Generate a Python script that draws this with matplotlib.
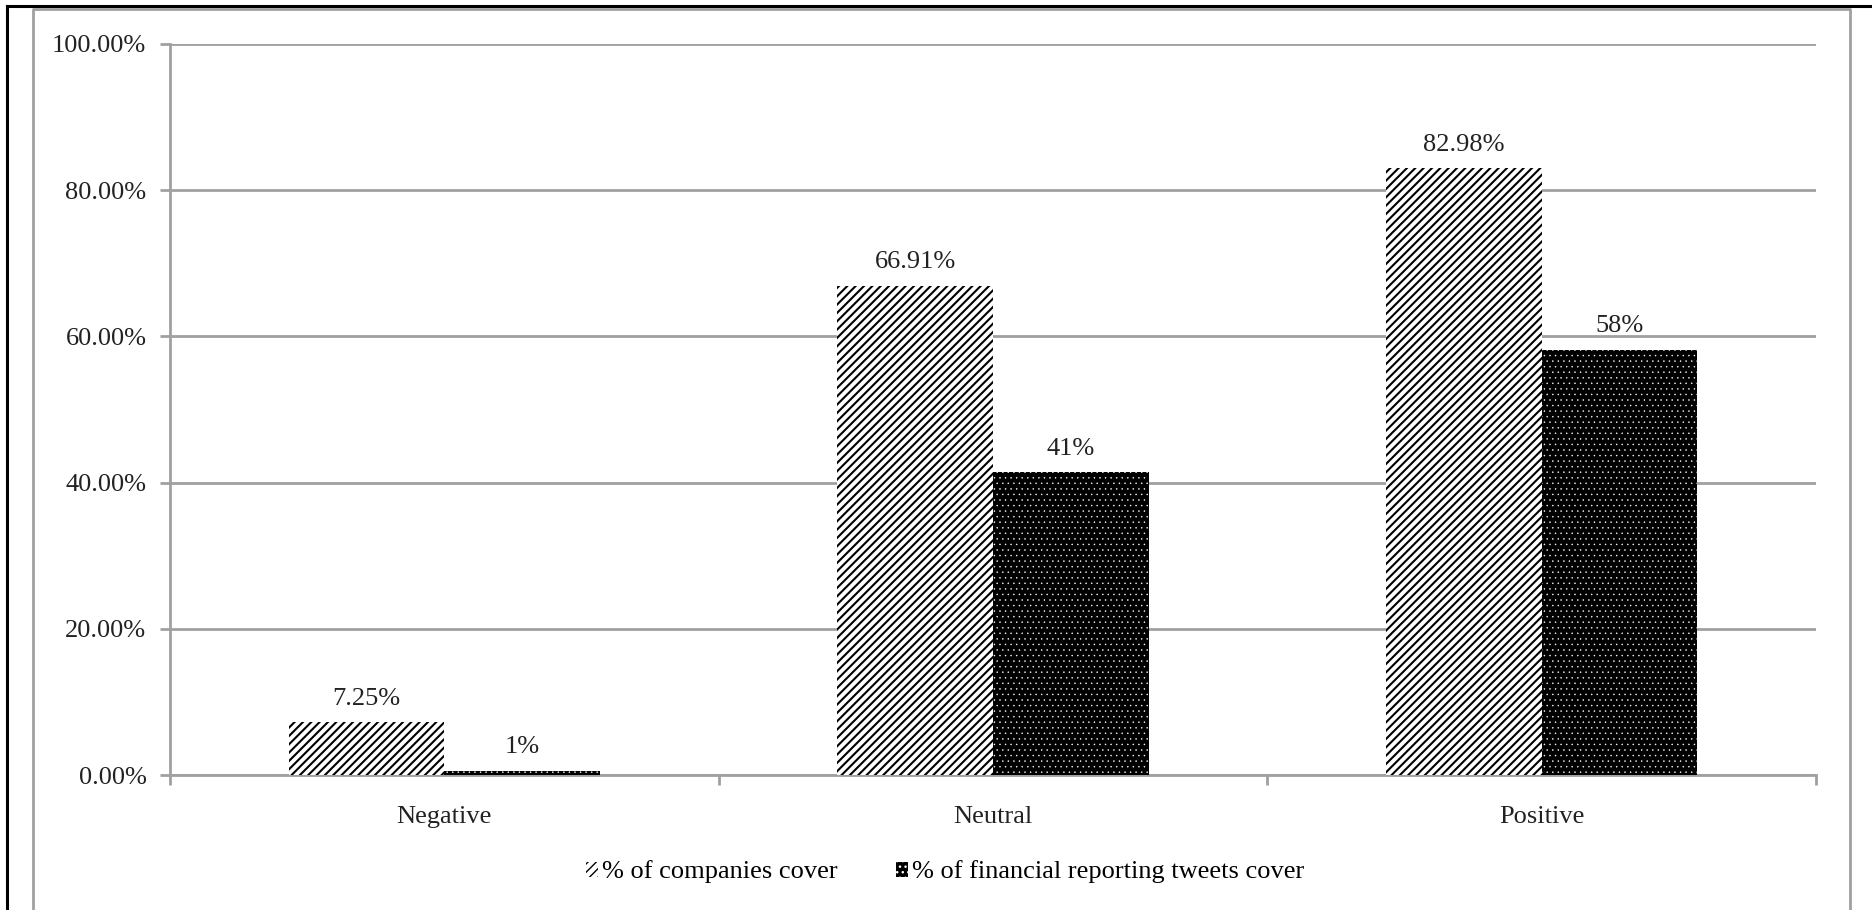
import matplotlib.pyplot as plt
from matplotlib.lines import Line2D
from matplotlib.patches import Patch
import numpy as np

plt.rcParams['font.family'] = ['Liberation Serif', 'DejaVu Serif']

# Data
categories = ['Negative', 'Neutral', 'Positive']
companies_pct = [7.25, 66.91, 82.98]
tweets_pct = [0.6, 41.4, 58.2]
series_names = ['% of companies cover', '% of financial reporting tweets cover']

grid_gray = '#a0a0a0'

fig = plt.figure(figsize=(18.72, 9.10), dpi=100)
ax = fig.add_axes([170 / 1872, 1 - 775 / 910, (1816 - 170) / 1872, (775 - 44) / 910])

x = np.arange(len(categories))
w = 0.284

with plt.rc_context({'hatch.linewidth': 1.5}):
    b1 = ax.bar(x - w / 2, companies_pct, w, facecolor='white', edgecolor='black',
                hatch='////', linewidth=0, zorder=3)
    h1 = Patch(facecolor='white', edgecolor='black', hatch='////', linewidth=0)
with plt.rc_context({'hatch.linewidth': 0.3}):
    b2 = ax.bar(x + w / 2, tweets_pct, w, facecolor='black', edgecolor='white',
                hatch='...', linewidth=0, zorder=3)
    h2 = Patch(facecolor='black', edgecolor='white', hatch='...', linewidth=0)

# value labels
for rect, v in zip(b1, companies_pct):
    ax.annotate(f'{v:.2f}%', (rect.get_x() + rect.get_width() / 2, v),
                xytext=(0, 9), textcoords='offset points',
                ha='center', va='bottom', fontsize=19, color='#222222')
for rect, v in zip(b2, tweets_pct):
    ax.annotate(f'{v:.0f}%', (rect.get_x() + rect.get_width() / 2, v),
                xytext=(0, 9), textcoords='offset points',
                ha='center', va='bottom', fontsize=19, color='#222222')

ax.set_xlim(-0.5, len(categories) - 0.5)
ax.set_ylim(0, 100)
ax.set_yticks(np.arange(0, 101, 20))
ax.set_yticklabels([f'{t:.2f}%' for t in np.arange(0, 101, 20)], fontsize=19, color='#222222')
ax.set_xticks(x)
ax.set_xticklabels(categories, fontsize=19, color='#222222')
ax.set_xticks(np.arange(-0.5, len(categories), 1), minor=True)
ax.tick_params(axis='x', which='major', length=0, pad=22)
ax.tick_params(axis='x', which='minor', length=7, width=2, color=grid_gray)
ax.tick_params(axis='y', length=7, width=2, color=grid_gray, pad=10)

ax.yaxis.grid(True, color=grid_gray, linewidth=2, zorder=0)
ax.set_axisbelow(True)
for side in ['top', 'right']:
    ax.spines[side].set_visible(False)
for side in ['left', 'bottom']:
    ax.spines[side].set_color(grid_gray)
    ax.spines[side].set_linewidth(2)

# legend
fig.legend([h1, h2], series_names, loc='center', bbox_to_anchor=(945 / 1872, 1 - 872 / 910),
           ncol=2, frameon=False, fontsize=19, handlelength=0.45, handleheight=0.5,
           handletextpad=0.15, columnspacing=2.2)

# outer frames
fig.add_artist(Line2D([7 / 1872, 7 / 1872], [0, 1 - 6 / 910], color='black', linewidth=2.2))
fig.add_artist(Line2D([7 / 1872, 1], [1 - 6 / 910, 1 - 6 / 910], color='black', linewidth=2.2))
fig.add_artist(Line2D([33 / 1872, 33 / 1872, 1850 / 1872, 1850 / 1872],
                      [0, 1 - 9 / 910, 1 - 9 / 910, 0], color=grid_gray, linewidth=2))

fig.savefig('out.png', dpi=100)
